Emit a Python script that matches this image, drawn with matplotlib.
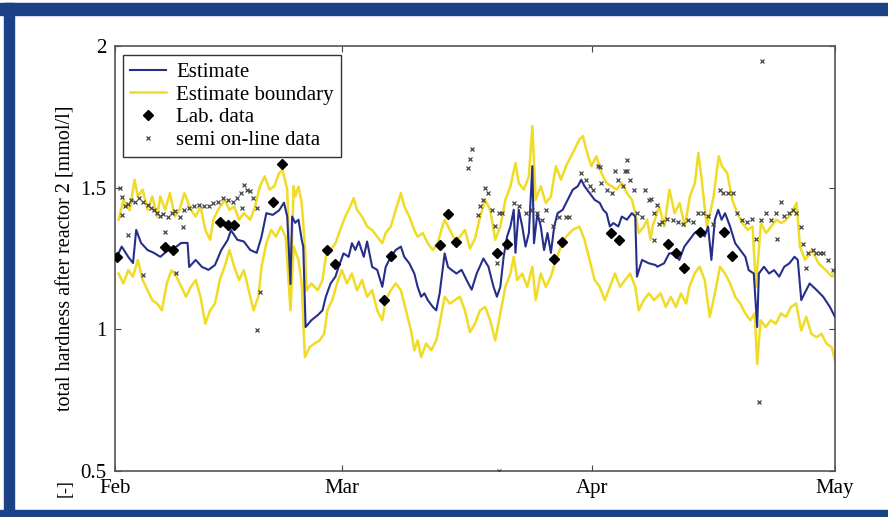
import numpy as np
import pandas as pd
import matplotlib
matplotlib.use("Agg")
import matplotlib.pyplot as plt
import matplotlib.dates as mdates
from matplotlib.patches import Rectangle

# days are counted from 1 Feb
start_date = "2001-02-01"
end_date = "2001-05-01"

est_days = [0.24, 0.83, 1.63, 2.23, 2.62, 3.22, 4.02, 4.80, 5.60, 6.59, 7.59, 8.19, 8.97, 9.17,
            9.97, 10.76, 11.56, 12.36, 13.14, 13.94, 14.33, 15.13, 15.93, 16.72, 17.52, 18.11,
            18.71, 19.50, 20.29, 20.89, 21.29, 21.69, 21.89, 22.28, 22.68, 23.08, 23.27, 23.56,
            24.27, 25.06, 25.65, 26.06, 26.65, 27.25, 27.64, 28.25, 28.88, 29.29, 29.71, 30.13,
            30.75, 31.16, 31.79, 32.41, 33.04, 33.46, 34.09, 34.71, 35.34, 35.75, 36.38, 37.00,
            37.41, 37.84, 38.25, 38.66, 39.29, 39.71, 40.13, 40.75, 41.16, 41.59, 42.21, 42.84,
            43.46, 44.09, 44.71, 45.54, 46.16, 46.79, 47.21, 47.63, 48.04, 48.46, 48.88, 49.29,
            49.50, 49.91, 50.34, 50.75, 51.16, 51.59, 51.79, 52.21, 52.63, 53.04, 53.46, 53.88,
            54.29, 54.71, 55.34, 55.96, 56.59, 57.21, 57.63, 58.04, 58.66, 59.29, 59.92, 60.34,
            60.76, 61.17, 61.60, 62.22, 62.64, 63.27, 63.89, 64.31, 64.52, 65.15, 65.99, 66.82,
            67.03, 67.87, 68.50, 69.12, 69.75, 70.38, 71.01, 71.64, 72.26, 72.89, 73.31, 73.72,
            74.15, 74.56, 74.98, 75.41, 76.03, 76.66, 77.29, 77.92, 78.33, 78.96, 79.38, 79.59,
            80.22, 80.85, 81.47, 82.10, 82.73, 83.36, 83.99, 84.40, 84.83, 85.24, 85.87, 86.71,
            87.54, 88.37, 89.0]
est_vals = [1.256, 1.292, 1.256, 1.234, 1.351, 1.305, 1.28, 1.27, 1.256, 1.28, 1.292, 1.305, 1.305, 1.22,
            1.245, 1.22, 1.21, 1.227, 1.28, 1.316, 1.35, 1.316, 1.31, 1.28, 1.27, 1.327,
            1.41, 1.404, 1.42, 1.447, 1.398, 1.16, 1.398, 1.376, 1.387, 1.316, 1.292, 1.008,
            1.032, 1.05, 1.067, 1.115, 1.162, 1.186, 1.22, 1.268, 1.256, 1.304, 1.28, 1.31,
            1.256, 1.31, 1.22, 1.21, 1.15, 1.22, 1.256, 1.28, 1.292, 1.256, 1.233, 1.197,
            1.15, 1.115, 1.127, 1.103, 1.079, 1.067, 1.127, 1.268, 1.22, 1.21, 1.197, 1.21,
            1.174, 1.14, 1.197, 1.25, 1.221, 1.15, 1.115, 1.15, 1.256, 1.327, 1.363, 1.422,
            1.27, 1.422, 1.363, 1.292, 1.34, 1.576, 1.304, 1.41, 1.363, 1.28, 1.34, 1.27,
            1.363, 1.41, 1.422, 1.457, 1.493, 1.505, 1.528, 1.505, 1.481, 1.457, 1.446, 1.422,
            1.41, 1.363, 1.375, 1.363, 1.398, 1.387, 1.41, 1.398, 1.186, 1.245, 1.233, 1.227,
            1.221, 1.233, 1.268, 1.268, 1.245, 1.292, 1.316, 1.34, 1.351, 1.328, 1.363, 1.245,
            1.387, 1.422, 1.387, 1.41, 1.363, 1.304, 1.28, 1.256, 1.209, 1.197, 1.008, 1.197,
            1.221, 1.197, 1.209, 1.186, 1.221, 1.233, 1.256, 1.245, 1.103, 1.127, 1.162, 1.139,
            1.115, 1.079, 1.044]

up_days = [0.44, 1.04, 1.82, 2.42, 2.82, 3.42, 4.02, 4.61, 5.21, 5.60, 6.20, 6.79, 7.39, 7.98,
           8.58, 9.38, 9.97, 10.57, 11.16, 11.76, 12.15, 12.75, 13.55, 14.14, 14.74, 15.33,
           15.93, 16.72, 17.31, 17.91, 18.50, 19.10, 19.70, 20.29, 20.70, 21.29, 21.69, 22.08,
           22.28, 22.68, 23.08, 23.48, 23.68, 24.27, 25.06, 25.65, 26.06, 26.65, 27.25, 27.84,
           28.46, 29.09, 29.50, 29.91, 30.54, 31.16, 31.79, 32.41, 33.04, 33.46, 34.09, 34.71,
           35.34, 35.75, 36.38, 37.00, 37.41, 38.04, 38.66, 39.29, 39.91, 40.34, 40.75, 41.38,
           42.00, 42.63, 43.25, 43.88, 44.50, 45.13, 45.75, 46.38, 47.00, 47.63, 48.25, 48.88,
           49.50, 49.91, 50.54, 51.16, 51.59, 52.00, 52.63, 53.25, 53.88, 54.50, 55.13, 55.75,
           56.59, 57.41, 57.84, 58.25, 58.88, 59.50, 60.13, 60.76, 61.38, 62.01, 62.64, 63.27,
           63.90, 64.31, 64.74, 65.36, 65.78, 66.19, 66.45, 67.28, 67.91, 68.54, 69.17, 69.80,
           70.43, 71.06, 71.68, 72.11, 72.52, 73.15, 73.56, 73.99, 74.62, 75.04, 75.67, 76.30,
           76.92, 77.55, 78.18, 78.81, 79.22, 79.85, 80.48, 81.11, 81.74, 82.37, 82.99, 83.62,
           84.25, 84.67, 85.30, 86.13, 86.97, 87.81, 88.65, 89.0]
up_vals = [1.387, 1.457, 1.42, 1.528, 1.469, 1.493, 1.422, 1.469, 1.398, 1.469, 1.422, 1.481, 1.398, 1.422,
           1.481, 1.422, 1.398, 1.434, 1.351, 1.316, 1.387, 1.422, 1.457, 1.422, 1.434, 1.387,
           1.41, 1.387, 1.434, 1.505, 1.54, 1.493, 1.505, 1.552, 1.563, 1.493, 1.127, 1.505,
           1.469, 1.504, 1.446, 1.292, 1.138, 1.162, 1.138, 1.174, 1.256, 1.28, 1.304, 1.351,
           1.398, 1.434, 1.463, 1.422, 1.398, 1.363, 1.35, 1.327, 1.304, 1.34, 1.363, 1.422,
           1.481, 1.434, 1.398, 1.35, 1.327, 1.34, 1.304, 1.28, 1.304, 1.351, 1.387, 1.351,
           1.316, 1.327, 1.351, 1.285, 1.32, 1.398, 1.457, 1.422, 1.316, 1.363, 1.457, 1.505,
           1.587, 1.516, 1.493, 1.54, 1.717, 1.457, 1.505, 1.446, 1.469, 1.576, 1.528, 1.576,
           1.623, 1.67, 1.682, 1.634, 1.576, 1.611, 1.552, 1.516, 1.505, 1.493, 1.516, 1.481,
           1.457, 1.41, 1.34, 1.363, 1.387, 1.316, 1.363, 1.434, 1.363, 1.493, 1.41, 1.446,
           1.363, 1.469, 1.516, 1.623, 1.528, 1.363, 1.41, 1.469, 1.611, 1.575, 1.552, 1.457,
           1.41, 1.375, 1.351, 1.363, 1.15, 1.375, 1.34, 1.363, 1.387, 1.375, 1.387, 1.41,
           1.446, 1.292, 1.245, 1.28, 1.233, 1.21, 1.186, 1.2]

low_days = [0.44, 1.04, 1.63, 2.23, 2.82, 3.42, 4.02, 4.61, 5.21, 5.80, 6.40, 6.99, 7.59, 8.19,
            8.78, 9.38, 9.97, 10.57, 11.16, 11.76, 12.36, 12.95, 13.55, 14.14, 14.74, 15.33,
            15.93, 16.53, 17.12, 17.72, 18.11, 18.71, 19.30, 19.90, 20.49, 21.09, 21.69, 22.08,
            22.68, 23.08, 23.47, 24.07, 24.66, 25.26, 25.86, 26.25, 26.85, 27.44, 28.04, 28.66,
            29.29, 29.91, 30.54, 31.16, 31.79, 32.41, 33.04, 33.46, 34.09, 34.71, 35.34, 35.96,
            36.59, 37.00, 37.41, 37.84, 38.46, 39.09, 39.71, 40.13, 40.75, 41.38, 42.00, 42.63,
            43.25, 43.88, 44.50, 45.13, 45.75, 46.38, 47.00, 47.63, 48.25, 48.88, 49.29, 49.71,
            50.34, 50.96, 51.59, 52.00, 52.63, 53.25, 53.88, 54.50, 55.13, 55.75, 56.59, 57.41,
            58.04, 58.66, 59.29, 59.92, 60.54, 61.17, 61.80, 62.43, 63.05, 63.68, 64.31, 64.74,
            65.36, 65.99, 66.62, 67.45, 68.08, 68.70, 69.33, 69.96, 70.59, 71.01, 71.64, 72.27,
            72.89, 73.52, 74.15, 74.78, 75.41, 76.03, 76.66, 77.29, 77.92, 78.54, 79.08, 79.38,
            79.80, 80.43, 81.06, 81.69, 82.31, 82.94, 83.57, 84.20, 84.83, 85.45, 86.08, 86.71,
            87.34, 87.96, 88.59, 89.0]
low_vals = [1.197, 1.162, 1.209, 1.186, 1.245, 1.174, 1.138, 1.103, 1.091, 1.067, 1.162, 1.209, 1.186, 1.15,
            1.115, 1.15, 1.174, 1.115, 1.02, 1.067, 1.091, 1.174, 1.221, 1.28, 1.221, 1.174,
            1.209, 1.138, 1.067, 1.115, 1.221, 1.304, 1.351, 1.327, 1.363, 1.327, 1.067, 1.292,
            1.245, 1.162, 0.902, 0.937, 0.95, 0.96, 0.984, 1.067, 1.103, 1.162, 1.209, 1.162,
            1.197, 1.138, 1.174, 1.115, 1.138, 1.067, 1.032, 1.103, 1.138, 1.162, 1.138, 1.067,
            0.996, 0.926, 0.961, 0.902, 0.95, 0.926, 0.961, 1.02, 1.115, 1.091, 1.103, 1.115,
            1.067, 0.99, 1.02, 1.067, 1.079, 1.032, 0.961, 1.056, 1.15, 1.197, 1.256, 1.174,
            1.197, 1.15, 1.221, 1.103, 1.197, 1.15, 1.186, 1.245, 1.292, 1.327, 1.351, 1.363,
            1.316, 1.245, 1.174, 1.15, 1.103, 1.15, 1.197, 1.15, 1.174, 1.197, 1.15, 1.067,
            1.103, 1.127, 1.103, 1.127, 1.079, 1.115, 1.079, 1.127, 1.091, 1.15, 1.197, 1.221,
            1.174, 1.044, 1.127, 1.221, 1.197, 1.162, 1.115, 1.091, 1.056, 1.032, 1.056, 0.878,
            1.032, 1.008, 1.032, 1.02, 1.056, 1.044, 1.079, 1.091, 0.996, 1.044, 0.984, 0.972,
            0.984, 0.949, 0.937, 0.89]

lab_days = [0.24, 6.20, 7.19, 12.99, 13.94, 14.74, 19.50, 20.61, 26.25, 27.25, 33.25, 34.16,
            40.13, 41.16, 42.21, 47.21, 48.46, 54.25, 55.31, 61.26, 62.27, 68.38, 69.29, 70.30,
            72.27, 75.32, 76.32]
lab_vals = [1.256, 1.292, 1.28, 1.38, 1.369, 1.369, 1.451, 1.582, 1.28, 1.23, 1.105, 1.259,
            1.298, 1.408, 1.31, 1.268, 1.301, 1.247, 1.31, 1.34, 1.317, 1.302, 1.27, 1.218,
            1.343, 1.342, 1.26]

semi_days = [0.63, 0.83, 1.23, 1.63, 2.03, 2.42, 3.01, 3.42, 4.02, 4.41, 4.80, 5.21, 5.60, 5.99,
             6.59, 6.99, 7.39, 7.98, 8.58, 9.17, 9.77, 10.37, 10.96, 11.56, 12.15, 12.75, 13.34,
             13.94, 14.54, 15.13, 15.53, 15.93, 16.32, 16.72, 17.12,
             0.83, 1.63, 3.42, 6.20, 7.59, 8.38, 15.73, 17.52, 17.91, 17.52,
             43.66, 43.88, 44.09, 44.91, 45.13, 45.54, 45.75, 46.16, 46.59, 47.00, 47.41, 47.84,
             47.21, 47.41, 49.29, 49.91, 50.75, 51.59, 52.21, 52.84, 53.25, 54.09, 54.91, 55.75,
             56.16, 57.63, 58.25, 58.66, 59.08, 59.72, 59.92, 60.13, 60.76, 61.38, 61.80, 62.22,
             62.85, 63.05, 63.27, 63.27, 63.68, 64.11, 64.52, 65.15, 65.56, 65.99, 66.62, 66.62,
             66.20, 67.04, 67.25, 67.67, 68.29, 68.92, 69.55, 70.17, 70.80, 71.43, 72.06, 72.69,
             73.31, 73.94, 74.78, 75.19, 75.82, 76.45, 76.87, 77.50, 78.12, 78.75, 79.18, 79.81,
             80.43, 81.06, 81.69, 81.89, 82.31, 82.73, 83.36, 83.78, 84.20, 84.83, 85.03, 85.45,
             85.66, 86.28, 86.71, 87.13, 87.54, 88.17, 88.72, 80.01, 79.59]
semi_vals = [1.499, 1.467, 1.434, 1.443, 1.457, 1.451, 1.463, 1.451, 1.44, 1.428, 1.422, 1.41, 1.401, 1.408,
             1.398, 1.41, 1.416, 1.396, 1.422, 1.428, 1.434, 1.44, 1.434, 1.434, 1.446, 1.451, 1.463,
             1.457, 1.451, 1.463, 1.481, 1.51, 1.493, 1.487, 1.463,
             1.404, 1.333, 1.191, 1.342, 1.2, 1.362, 1.428, 1.428, 1.132, 0.996,
             1.57, 1.6, 1.635, 1.404, 1.434, 1.457, 1.499, 1.481, 1.422, 1.363, 1.41, 1.41,
             1.234, 0.5, 1.446, 1.434, 1.41, 1.422, 1.41, 1.387, 1.422, 1.363, 1.398, 1.398,
             1.398, 1.552, 1.528, 1.505, 1.493, 1.576, 1.574, 1.516, 1.493, 1.481, 1.558, 1.528,
             1.505, 1.56, 1.599, 1.558, 1.528, 1.493, 1.41, 1.398, 1.493, 1.457, 1.41, 1.316,
             1.46, 1.44, 1.37, 1.38, 1.39, 1.387, 1.38, 1.37, 1.387, 1.38, 1.41, 1.41,
             1.40, 1.37, 1.493, 1.48, 1.48, 1.48, 1.41, 1.387, 1.38, 1.39, 1.32, 1.387,
             1.41, 1.387, 1.41, 1.318, 1.45, 1.40, 1.41, 1.42, 1.41, 1.36, 1.30, 1.215,
             1.268, 1.28, 1.268, 1.268, 1.268, 1.245, 1.21, 1.948, 0.742]


def to_dates(days):
    return pd.Timestamp(start_date) + pd.to_timedelta(np.array(days), unit="D")


plt.rcParams["font.family"] = ["Liberation Serif", "DejaVu Serif"]
plt.rcParams["font.size"] = 15

fig = plt.figure(figsize=(8.88, 5.17), dpi=100)
ax = fig.add_axes([115 / 888, 1 - 471 / 517, 720 / 888, 425 / 517])

yellow = "#f0db26"
blue = "#252f8a"

ax.plot(to_dates(up_days), up_vals, color=yellow, lw=1.8, label="Estimate boundary", zorder=2)
ax.plot(to_dates(low_days), low_vals, color=yellow, lw=1.8, zorder=2)
ax.plot(to_dates(est_days), est_vals, color=blue, lw=1.5, label="Estimate", zorder=3)
ax.plot(to_dates(lab_days), lab_vals, ls="none", marker="D", ms=4.8, color="black",
        label="Lab. data", zorder=5)
ax.plot(to_dates(semi_days), semi_vals, ls="none", marker="x", ms=3.5, mew=0.9,
        color="#444444", label="semi on-line data", zorder=4)

ax.set_xlim(pd.Timestamp(start_date), pd.Timestamp(end_date))
ax.set_ylim(0.5, 2)
ax.set_yticks([0.5, 1, 1.5, 2])
ax.set_yticklabels(["0.5", "1", "1.5", "2"])
ax.xaxis.set_major_locator(mdates.MonthLocator())
ax.xaxis.set_major_formatter(mdates.DateFormatter("%b"))
ax.tick_params(direction="in", length=4, width=0.8, top=True, right=True, color="#444444")
ax.tick_params(axis="x", pad=6)
ax.tick_params(axis="y", pad=6)
for sp in ax.spines.values():
    sp.set_color("#555555")
    sp.set_linewidth(1.2)

ax.set_ylabel("total hardness after reactor 2 [mmol/l]", fontsize=14.5)
ax.yaxis.set_label_coords(-0.055, 0.5)

handles, labels = ax.get_legend_handles_labels()
order = [1, 0, 2, 3]
leg = ax.legend([handles[i] for i in order], [labels[i] for i in order],
                loc="upper left", bbox_to_anchor=(0.011, 0.979), borderaxespad=0,
                fancybox=False, framealpha=1, edgecolor="#333333", numpoints=1,
                handlelength=1.7, handletextpad=0.5, borderpad=0.35, labelspacing=0.15,
                fontsize=15)
leg.get_frame().set_linewidth(1.0)

fig.text(65 / 888, 1 - 488 / 517, "[-]", rotation=90, ha="center", va="center", fontsize=13)

# blue frame around the picture
frame_col = "#1b4287"
fig.add_artist(Rectangle((0, 1 - 15 / 517), 1, 12 / 517, transform=fig.transFigure,
                         color=frame_col, zorder=10))
fig.add_artist(Rectangle((4 / 888, 0), 10 / 888, 1 - 3 / 517, transform=fig.transFigure,
                         color=frame_col, zorder=10))
fig.add_artist(Rectangle((0, 0), 1, 7 / 517, transform=fig.transFigure,
                         color=frame_col, zorder=10))

fig.savefig("out.png", dpi=100)
